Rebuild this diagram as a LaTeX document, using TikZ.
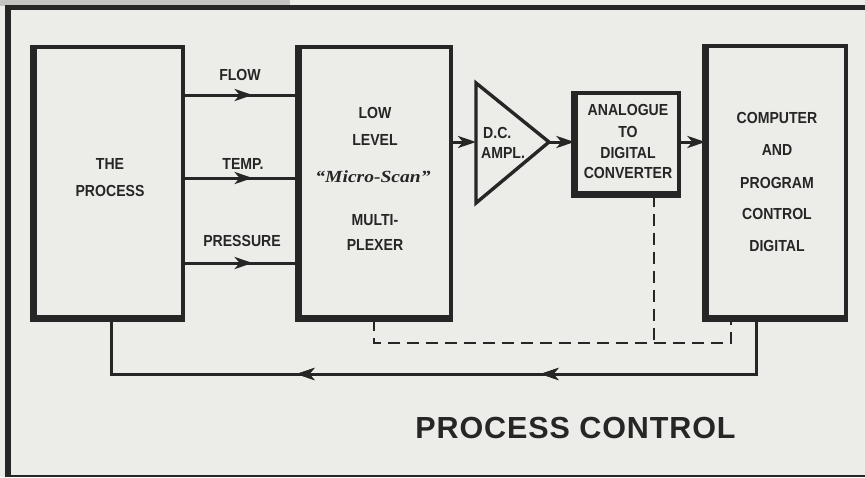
\documentclass[tikz,border=0pt]{standalone}
\usepackage{fontspec}
\setmainfont{Liberation Sans}
\newfontfamily\boxfont{Liberation Sans}[FakeStretch=0.88]
\newfontfamily\scriptfnt{Liberation Serif}[FakeStretch=1.15]
\newfontfamily\titlefnt{Liberation Sans}[LetterSpace=3]
\usetikzlibrary{arrows.meta,decorations.markings}
\definecolor{paper}{RGB}{236,236,232}
\definecolor{ink}{RGB}{38,38,38}
\definecolor{tab}{RGB}{196,196,194}
\tikzset{
  blk/.style={draw=ink, line width=3.2pt, rectangle, inner sep=0pt},
  heavy/.style={draw=ink, line width=6.5pt, line join=miter},
  sig/.style={draw=ink, line width=3pt},
  tip/.style={-{Stealth[length=18pt,width=12pt,inset=5pt]}},
  midarr/.style={postaction={decorate}, decoration={markings,
     mark=at position #1 with {\arrow{Stealth[length=18pt,width=12pt,inset=5pt]}}}},
  dashline/.style={draw=ink, line width=2.8pt, dash pattern=on 12pt off 7pt},
  txt/.style={font=\boxfont\bfseries\fontsize{16}{18}\selectfont, inner sep=0pt, anchor=base, text=ink},
}
\begin{document}
\begin{tikzpicture}[x=1pt,y=-1pt]
\useasboundingbox (0,0) rectangle (865,477);
\fill[paper] (0,0) rectangle (865,477);
\fill[tab] (0,0) rectangle (290,6);
% frame
\draw[ink, line width=5pt] (5,7.5) -- (865,7.5);
\draw[ink, line width=6pt] (8,5) -- (8,477);
\draw[ink, line width=2pt] (5,476) -- (865,476);

% blocks
\node[blk, minimum width=148pt, minimum height=270pt] (proc) at (109,182) {};
\node[blk, minimum width=151pt, minimum height=270pt] (mux) at (375.5,182) {};
\node[blk, minimum width=103pt, minimum height=100pt] (adc) at (627.5,143) {};
\node[blk, minimum width=139pt, minimum height=271pt] (comp) at (776.5,181.5) {};
\foreach \b in {proc,mux,adc,comp}
  \draw[heavy] (\b.north west) -- (\b.south west) -- (\b.south east);

% amplifier
\coordinate (ampin) at (476,142);
\coordinate (ampout) at (549,142);
\draw[ink, line width=3.4pt, line join=miter] (476,83) -- (ampout) -- (476,203) -- cycle;

% signal lines
\coordinate (yflow) at (0,95);
\coordinate (ytemp) at (0,178);
\coordinate (ypres) at (0,263);
\coordinate (yadc) at (0,142);
\foreach \c in {yflow,ytemp,ypres}
  \draw[sig, midarr=68pt] (proc.east |- \c) -- (mux.west |- \c);
\draw[sig, tip] (mux.east |- ampin) -- (ampin);
\draw[sig, tip] (ampout) -- (adc.west |- ampout);
\draw[sig, tip] (adc.east |- yadc) -- (comp.west |- yadc);

% feedback
\coordinate (fbR) at (756,374);
\coordinate (fbL) at (111,374);
\draw[sig, line join=miter, midarr=271pt, midarr=515pt]
  (comp.south -| fbR) -- (fbR) -- (fbL) -- (proc.south -| fbL);

% dashed control lines
\coordinate (dL) at (374,343);
\coordinate (dM) at (654,343);
\coordinate (dR) at (731,343);
\draw[dashline] (adc.south -| dM) -- (dM);
\draw[dashline] (mux.south -| dL) -- (dL) -- (dR) -- (comp.south -| dR);

% texts
\node[txt] (lflow) at (240,80) {FLOW};
\node[txt] (ltemp) at (243,169.5) {TEMP.};
\node[txt] (lpres) at (242,246.5) {PRESSURE};

\node[txt] (p1) at (110,169.5) {THE};
\node[txt] (p2) at (110,196.5) {PROCESS};

\node[txt] (m1) at (375,118.5) {LOW};
\node[txt] (m2) at (375,145.5) {LEVEL};
\node[txt, font=\scriptfnt\bfseries\itshape\fontsize{17}{19}\selectfont] (m3) at (373,182.5) {“Micro-Scan”};
\node[txt] (m4) at (375,225.5) {MULTI-};
\node[txt] (m5) at (375,250.5) {PLEXER};

\node[txt, anchor=base west] (a1) at (483,138.5) {D.C.};
\node[txt, anchor=base west] (a2) at (481,158.5) {AMPL.};

\node[txt] (d1) at (628,115.5) {ANALOGUE};
\node[txt] (d2) at (628,137.5) {TO};
\node[txt] (d3) at (628,158.5) {DIGITAL};
\node[txt] (d4) at (628,178.5) {CONVERTER};

\node[txt] (c1) at (777,123.5) {COMPUTER};
\node[txt] (c2) at (777,155.5) {AND};
\node[txt] (c3) at (777,188.5) {PROGRAM};
\node[txt] (c4) at (777,219.5) {CONTROL};
\node[txt] (c5) at (777,251.5) {DIGITAL};

\node[txt, font=\titlefnt\bfseries\fontsize{30.5}{34}\selectfont] (title) at (575.5,438) {PROCESS CONTROL};
\end{tikzpicture}
\end{document}
